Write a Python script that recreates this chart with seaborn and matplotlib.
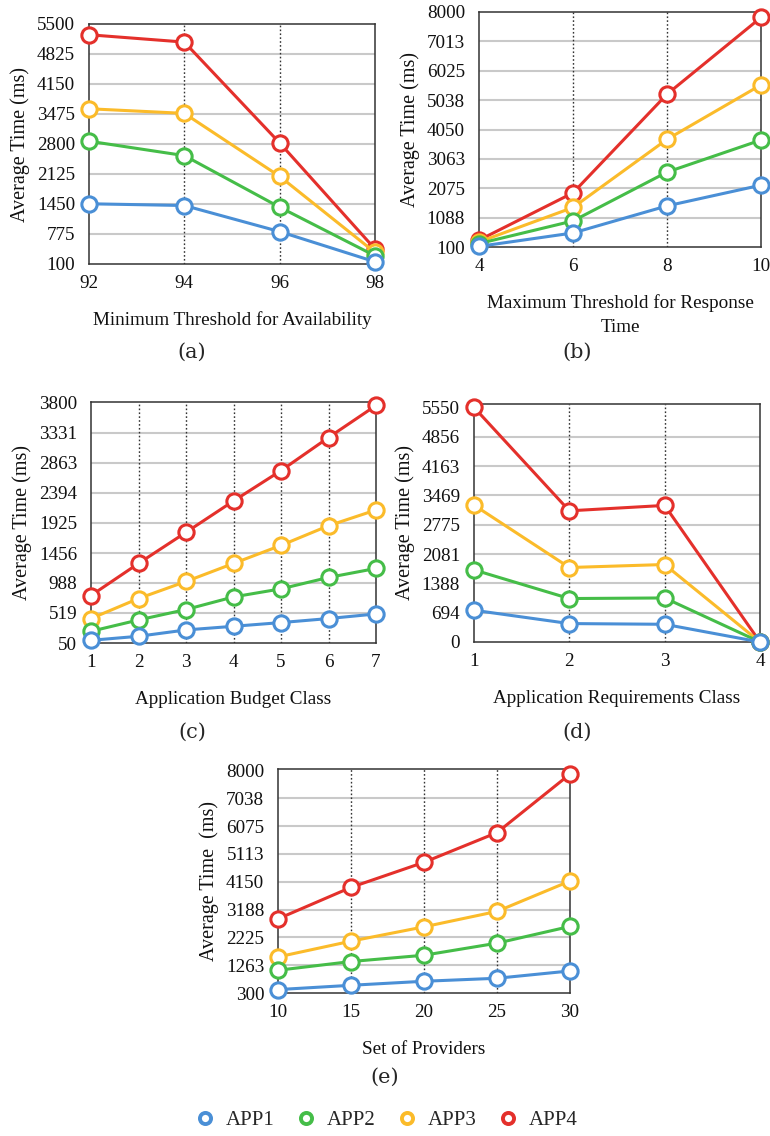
import matplotlib
matplotlib.use("Agg")
import matplotlib.pyplot as plt
from matplotlib.lines import Line2D
import seaborn as sns
import pandas as pd

sns.set_theme(style="white")
plt.rcParams["font.family"] = ["Liberation Serif", "DejaVu Serif"]

apps = ["APP1", "APP2", "APP3", "APP4"]
colors = {"APP1": "#4a8fd6", "APP2": "#45bd48", "APP3": "#fbbb2a", "APP4": "#e4302b"}

# (a) minimum threshold for availability
avail_x = [92, 94, 96, 98]
avail_app1 = [1455, 1416, 829, 150]
avail_app2 = [2863, 2539, 1378, 285]
avail_app3 = [3593, 3489, 2072, 360]
avail_app4 = [5258, 5093, 2824, 438]
avail_yticks = ["100", "775", "1450", "2125", "2800", "3475", "4150", "4825", "5500"]

# (b) maximum threshold for response time
resp_x = [4, 6, 8, 10]
resp_app1 = [120, 572, 1482, 2179]
resp_app2 = [215, 976, 2617, 3696]
resp_app3 = [270, 1428, 3719, 5549]
resp_app4 = [330, 1920, 5236, 7817]
resp_yticks = ["100", "1088", "2075", "3063", "4050", "5038", "6025", "7013", "8000"]

# (c) application budget class
budget_x = [1, 2, 3, 4, 5, 6, 7]
budget_app1 = [92, 155, 254, 311, 369, 432, 504]
budget_app2 = [233, 410, 573, 770, 896, 1074, 1215]
budget_app3 = [432, 745, 1011, 1293, 1575, 1882, 2128]
budget_app4 = [792, 1293, 1779, 2269, 2743, 3260, 3761]
budget_yticks = ["50", "519", "988", "1456", "1925", "2394", "2863", "3331", "3800"]

# (d) application requirements class
req_x = [1, 2, 3, 4]
req_app1 = [751, 436, 419, 0]
req_app2 = [1706, 1028, 1042, 0]
req_app3 = [3238, 1762, 1833, 0]
req_app4 = [5550, 3103, 3231, 0]
req_yticks = ["0", "694", "1388", "2081", "2775", "3469", "4163", "4856", "5550"]

# (e) set of providers
prov_x = [10, 15, 20, 25, 30]
prov_app1 = [418, 567, 706, 810, 1063]
prov_app2 = [1087, 1389, 1607, 2024, 2603]
prov_app3 = [1548, 2093, 2589, 3123, 4174]
prov_app4 = [2866, 3955, 4822, 5849, 7874]
prov_yticks = ["300", "1263", "2225", "3188", "4150", "5113", "6075", "7038", "8000"]

W, H = 770, 1136
fig = plt.figure(figsize=(W / 100, H / 100), dpi=100)
fig.patch.set_facecolor("white")


def box(l, r, t, b):
    return [l / W, 1 - b / H, (r - l) / W, (b - t) / H]


panels = [
    dict(rect=box(89, 375, 24, 264), x=avail_x,
         series=[avail_app1, avail_app2, avail_app3, avail_app4],
         yticks=avail_yticks, ylim=(100, 5500),
         xlabel="Minimum Threshold for Availability", ylabel="Average Time (ms)",
         caption="(a)", cap_xy=(192, 352)),
    dict(rect=box(479, 761, 12, 247), x=resp_x,
         series=[resp_app1, resp_app2, resp_app3, resp_app4],
         yticks=resp_yticks, ylim=(100, 8000),
         xlabel="Maximum Threshold for Response\nTime", ylabel="Average Time (ms)",
         caption="(b)", cap_xy=(577, 352)),
    dict(rect=box(91, 376, 402, 643), x=budget_x,
         series=[budget_app1, budget_app2, budget_app3, budget_app4],
         yticks=budget_yticks, ylim=(50, 3815),
         xlabel="Application Budget Class", ylabel="Average Time (ms)",
         caption="(c)", cap_xy=(192, 732)),
    dict(rect=box(474, 760, 404, 642), x=req_x,
         series=[req_app1, req_app2, req_app3, req_app4],
         yticks=req_yticks, ylim=(0, 5630),
         xlabel="Application Requirements Class", ylabel="Average Time (ms)",
         caption="(d)", cap_xy=(577, 732)),
    dict(rect=box(278, 570, 769, 993), x=prov_x,
         series=[prov_app1, prov_app2, prov_app3, prov_app4],
         yticks=prov_yticks, ylim=(300, 8050),
         xlabel="Set of Providers", ylabel="Average Time  (ms)",
         caption="(e)", cap_xy=(385, 1077)),
]

for p in panels:
    ax = fig.add_axes(p["rect"])
    ax.set_facecolor("white")
    yt = [int(v) for v in p["yticks"]]
    # horizontal solid grid, vertical dotted grid
    for v in yt[1:-1]:
        ax.axhline(v, color="#c9c9c9", lw=1.5, zorder=0)
    for v in p["x"][1:-1]:
        ax.axvline(v, color="#333333", lw=1.0, ls=(0, (1.2, 1.6)), zorder=0)

    df = pd.DataFrame({"x": p["x"] * 4,
                       "y": sum(p["series"], []),
                       "app": [a for a in apps for _ in p["x"]]})
    for app in apps[::-1]:
        sub = df[df["app"] == app]
        c = colors[app]
        sns.lineplot(data=sub, x="x", y="y", ax=ax, color=c, lw=2.2,
                     marker="o", markersize=11, markerfacecolor="white",
                     markeredgecolor=c, markeredgewidth=2.2, clip_on=False,
                     legend=False, zorder=3)

    ax.set_xlim(p["x"][0], p["x"][-1])
    ax.set_ylim(*p["ylim"])
    ax.set_xticks(p["x"])
    ax.set_xticklabels([str(v) for v in p["x"]])
    ax.set_yticks(yt)
    ax.set_yticklabels(p["yticks"])
    ax.tick_params(axis="both", length=0, labelsize=13.8, colors="#111111")
    ax.tick_params(axis="y", pad=10)
    ax.tick_params(axis="x", pad=8)
    for s in ax.spines.values():
        s.set_color("#333333")
        s.set_linewidth(1.1)
        s.set_visible(True)
    ax.set_xlabel(p["xlabel"], fontsize=13.8, labelpad=14, color="#111111",
                  linespacing=1.5)
    ax.set_ylabel(p["ylabel"], fontsize=14.5, labelpad=5, color="#111111")
    fig.text(p["cap_xy"][0] / W, 1 - p["cap_xy"][1] / H, p["caption"],
             ha="center", va="center", fontsize=15, family="DejaVu Serif")

handles = [Line2D([], [], ls="none", marker="o", markersize=8,
                  markerfacecolor="white", markeredgecolor=colors[a],
                  markeredgewidth=2.8) for a in apps]
fig.legend(handles, apps, loc="center", bbox_to_anchor=(386 / W, 1 - 1120 / H),
           ncol=4, frameon=False, fontsize=15, handlelength=1.0,
           handletextpad=0.5, columnspacing=1.0)

fig.savefig("out.png", dpi=100, facecolor="white")
